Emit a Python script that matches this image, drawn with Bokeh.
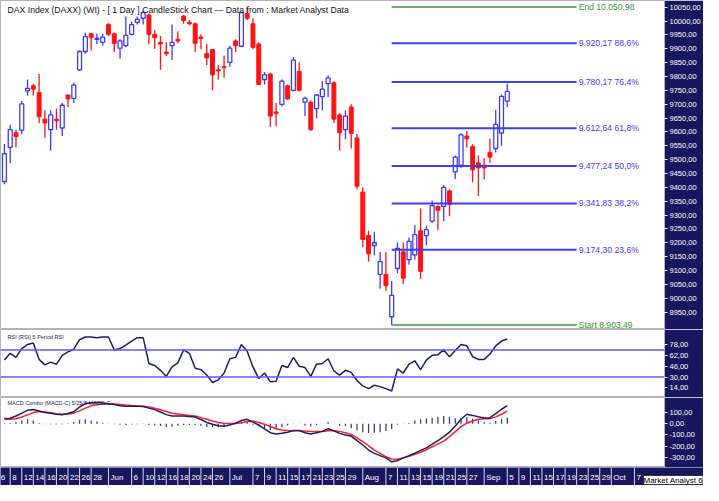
from bokeh.plotting import figure
from bokeh.layouts import column
from bokeh.models import Range1d, FixedTicker, Label, Span, ColumnDataSource
from bokeh.core.properties import value
from bokeh.embed import file_html
from bokeh.resources import INLINE

FONT = "Liberation Sans"
NAVY = "#17175f"
UP = "#3b3bff"
DOWN = "#ff1212"

# ---------------- data (trading day index 0 = 7 May 2014) ----------------
day = list(range(88))
opens = [9421, 9544, 9597, 9606, 9748, 9766, 9742, 9646, 9608, 9646,
         9614, 9733, 9721, 9824, 9890, 9954, 9934, 9923, 9987, 9954,
         9902, 9911, 9952, 9995, 10010, 10022, 9952, 9923, 9888, 9911,
         9934, 10018, 9995, 9990, 9942, 9882, 9897, 9824, 9835, 9851,
         9928, 9909, 10027, 9990, 9917, 9789, 9809, 9672, 9699, 9766,
         9750, 9818, 9707, 9707, 9684, 9727, 9774, 9777, 9661, 9608,
         9690, 9578, 9383, 9226, 9190, 9086, 9086, 8933, 9107, 9167,
         9139, 9156, 9243, 9226, 9278, 9331, 9331, 9387, 9456, 9480,
         9585, 9547, 9488, 9480, 9526, 9540, 9596, 9711]
highs = [9556, 9626, 9608, 9711, 9789, 9774, 9809, 9678, 9678, 9684,
         9704, 9735, 9777, 9894, 9958, 9958, 9954, 9954, 9993, 9958,
         9934, 10016, 9998, 10016, 10037, 10027, 9967, 9946, 9923, 9987,
         9963, 10022, 10004, 9995, 9952, 9917, 9899, 9841, 9876, 9911,
         9934, 10033, 10050.98, 10010, 9923, 9816, 9812, 9704, 9789, 9771,
         9870, 9851, 9727, 9713, 9736, 9783, 9804, 9783, 9667, 9678,
         9700, 9592, 9400, 9243, 9240, 9167, 9167, 9062, 9201, 9201,
         9219, 9264, 9324, 9261, 9352, 9334, 9408, 9393, 9515, 9595,
         9603, 9555, 9515, 9505, 9575, 9680, 9735, 9774]
lows = [9411, 9488, 9544, 9591, 9731, 9731, 9632, 9579, 9533, 9608,
        9585, 9690, 9704, 9820, 9882, 9894, 9917, 9911, 9946, 9888,
        9864, 9905, 9948, 9987, 9987, 9917, 9899, 9824, 9874, 9859,
        9920, 9990, 9985, 9888, 9899, 9841, 9750, 9789, 9795, 9835,
        9888, 9905, 10004, 9899, 9769, 9771, 9618, 9620, 9692, 9715,
        9746, 9746, 9657, 9603, 9649, 9678, 9725, 9632, 9533, 9573,
        9540, 9393, 9184, 9132, 9155, 9034, 9027, 8903.49, 9090, 9051,
        9121, 9139, 9069, 9191, 9271, 9247, 9278, 9296, 9430, 9470,
        9544, 9418, 9369, 9428, 9488, 9526, 9550, 9690]
closes = [9521, 9608, 9583, 9701, 9757, 9754, 9655, 9632, 9661, 9640,
          9696, 9719, 9769, 9890, 9944, 9940, 9937, 9942, 9952, 9919,
          9928, 9948, 9987, 10006, 10030, 9952, 9940, 9917, 9882, 9923,
          9928, 10002, 9990, 9920, 9937, 9867, 9806, 9820, 9832, 9902,
          9911, 10030, 10010, 9905, 9771, 9806, 9657, 9667, 9783, 9719,
          9859, 9750, 9721, 9608, 9733, 9754, 9795, 9646, 9597, 9657,
          9595, 9404, 9212, 9160, 9200, 9132, 9045, 9010, 9180, 9072,
          9205, 9229, 9097, 9247, 9334, 9317, 9400, 9338, 9509, 9589,
          9575, 9463, 9470, 9470, 9509, 9627, 9728, 9746]

rsi = [55, 65, 59, 72, 78, 80, 56, 48, 52, 49,
       62, 67, 71, 85, 89, 89, 88, 89, 89, 70,
       72, 77, 83, 88, 88, 50, 47, 40, 31, 45,
       51, 70, 65, 43, 41, 33, 22, 26, 36, 57,
       59, 78, 68, 45, 28, 36, 23, 24, 47, 44,
       59, 46, 44, 31, 49, 50, 57, 39, 33, 40,
       37, 25, 17, 13, 18, 16, 13, 9.5, 42, 36,
       49, 54, 41, 55, 62, 63, 70, 60, 69, 78,
       76, 60, 56, 56, 64, 76, 83, 86]
macd = [48, 50, 70, 95, 120, 128, 115, 100, 94, 86,
        80, 92, 108, 150, 180, 188, 190, 186, 180, 172,
        162, 157, 157, 157, 155, 140, 127, 105, 82, 70,
        70, 70, 66, 60, 38, 12, -5, -18, -22, -10,
        5, 30, 40, 15, -12, -45, -80, -92, -85, -75,
        -60, -60, -80, -92, -80, -68, -45, -62, -86, -100,
        -110, -150, -190, -235, -265, -285, -305, -340, -330, -305,
        -285, -262, -238, -215, -182, -150, -115, -75, -20, 40,
        85, 75, 62, 52, 55, 90, 130, 162]
signal = [40, 41, 45, 60, 80, 100, 110, 105, 98, 90,
          85, 88, 95, 115, 140, 160, 170, 176, 178, 176,
          172, 167, 163, 160, 157, 150, 140, 125, 110, 95,
          88, 80, 75, 70, 55, 40, 25, 12, 5, 3,
          3, 10, 20, 22, 12, -5, -25, -45, -55, -60,
          -62, -62, -65, -70, -70, -68, -62, -62, -68, -80,
          -95, -125, -160, -195, -235, -265, -295, -315, -318, -305,
          -290, -272, -255, -232, -205, -180, -155, -115, -70, -25,
          5, 25, 40, 44, 46, 62, 85, 113]
hist = [5, 8, 15, 30, 40, 30, 8, -5, -4, -4,
        -5, 5, 15, 35, 40, 30, 20, 10, 3, -4,
        -8, -10, -6, -4, -3, -12, -15, -20, -28, -25,
        -18, -12, -10, -12, -18, -28, -30, -30, -28, -12,
        3, 20, 22, -8, -25, -40, -55, -48, -30, -15,
        2, 2, -15, -22, -10, 0, 17, 0, -18, -20,
        -40, -60, -75, -82, -80, -75, -65, -50, -8, 2,
        8, 30, 40, 48, 55, 62, 70, 62, 50, 50,
        60, 45, 30, 15, 10, 25, 45, 55]

fib_levels = [10050.98, 9920.17, 9780.17, 9612.64, 9477.24, 9341.83, 9174.30, 8903.49]
fib_labels = ["End 10.050,98", "9.920,17 88,6%", "9.780,17 76,4%", "9.612,64 61,8%",
              "9.477,24 50,0%", "9.341,83 38,2%", "9.174,30 23,6%", "Start 8.903,49"]
fib_from = 67
fib_to = 99

date_labels = ["6", "8", "12", "14", "16", "20", "22", "26", "28",
               "Jun", "6", "10", "12", "16", "18", "20", "24", "26",
               "Jul", "7", "9", "11", "15", "17", "21", "23", "25", "29",
               "Aug", "7", "11", "13", "15", "19", "21", "25", "27",
               "Sep", "5", "9", "11", "15", "17", "19", "23", "25", "29",
               "Oct", "7"]
date_idx = [-1, 1, 3, 5, 7, 9, 11, 13, 15,
            18, 22, 24, 26, 28, 30, 32, 34, 36,
            39, 43, 45, 47, 49, 51, 53, 55, 57, 59,
            62, 66, 68, 70, 72, 74, 76, 78, 80,
            83, 87, 89, 91, 93, 95, 97, 99, 101, 103,
            105, 109]

main_ticks = [8950, 9000, 9050, 9100, 9150, 9200, 9250, 9300, 9350, 9400, 9450, 9500,
              9550, 9600, 9650, 9700, 9750, 9800, 9850, 9900, 9950, 10000, 10050]
rsi_ticks = [14, 30, 46, 62, 78]
rsi_levels = [70, 30]
macd_ticks = [-300, -200, -100, 0, 100]

# ---------------- figures ----------------
X0, X1 = -0.68, 114.2
FRAME_W, AXIS_W = 664, 39
x_range = Range1d(X0, X1)


def make_fig(height, y_range, ticks):
    p = figure(width=FRAME_W + AXIS_W, height=height, x_range=x_range, y_range=y_range,
               output_backend="svg", toolbar_location=None,
               x_axis_location=None, y_axis_location="right",
               min_border=0, min_border_right=AXIS_W)
    p.border_fill_color = NAVY
    p.background_fill_color = "white"
    p.outline_line_color = "#b4b4b4"
    p.grid.visible = False
    ax = p.yaxis[0]
    ax.ticker = FixedTicker(ticks=ticks)
    ax.major_label_overrides = {t: ("%.2f" % t).replace(".", ",") for t in ticks}
    ax.major_label_text_color = "white"
    ax.major_label_text_font = FONT
    ax.major_label_text_font_size = "7.5px"
    ax.major_tick_line_color = "white"
    ax.major_tick_out = 3
    ax.major_tick_in = 0
    ax.minor_tick_line_color = None
    ax.axis_line_color = None
    ax.major_label_standoff = 2
    return p


# main price panel
p = make_fig(329, Range1d(8887, 10074), main_ticks)

up = [i for i in day if closes[i] >= opens[i]]
dn = [i for i in day if closes[i] < opens[i]]
src_up = ColumnDataSource(dict(x=up, h=[highs[i] for i in up], l=[lows[i] for i in up],
                               t=[closes[i] for i in up], b=[opens[i] for i in up]))
src_dn = ColumnDataSource(dict(x=dn, h=[highs[i] for i in dn], l=[lows[i] for i in dn],
                               t=[opens[i] for i in dn], b=[closes[i] for i in dn]))
p.segment(x0="x", x1="x", y0="l", y1="h", source=src_up, line_color=UP, line_width=1.3)
p.vbar(x="x", top="t", bottom="b", width=0.68, source=src_up,
       fill_color="white", line_color=UP, line_width=1.3)
p.segment(x0="x", x1="x", y0="l", y1="h", source=src_dn, line_color=DOWN, line_width=1.3)
p.vbar(x="x", top="t", bottom="b", width=0.68, source=src_dn,
       fill_color=DOWN, line_color=DOWN, line_width=1)

fib_colors = ["#3a963a" if lab.startswith(("End", "Start")) else "#3c3cff" for lab in fib_labels]
fib_widths = [1.5 if lab.startswith(("End", "Start")) else 2 for lab in fib_labels]
src_fib = ColumnDataSource(dict(y=fib_levels, label=fib_labels, c=fib_colors, w=fib_widths,
                                x0=[fib_from] * len(fib_levels), x1=[fib_to] * len(fib_levels)))
p.segment(x0="x0", x1="x1", y0="y", y1="y", line_color="c", line_width="w", source=src_fib)
p.text(x="x1", y="y", text="label", text_color="c", source=src_fib, x_offset=2,
       text_font=value(FONT), text_font_size="8.6px", text_baseline="middle", text_align="left")

p.add_layout(Label(x=7, y=320, x_units="screen", y_units="screen",
                   text="DAX Index (DAXX) (WI) -  [ 1 Day ] CandleStick Chart \u2014 Data from : Market Analyst Data",
                   text_font=FONT, text_font_size="8.7px", text_color="#111111",
                   text_baseline="middle"))

# RSI panel
pr = make_fig(68, Range1d(0, 100), rsi_ticks)
for lv in rsi_levels:
    pr.add_layout(Span(location=lv, dimension="width", line_color="#5a5aff", line_width=1.5))
pr.line(day, rsi, line_color="#1c1c70", line_width=1.5)
pr.add_layout(Label(x=7, y=61, x_units="screen", y_units="screen",
                    text="RSI (RSI) 5 Period RSI", text_font=FONT, text_font_size="5.5px",
                    text_color="#222255", text_baseline="middle"))

# MACD panel
pm = make_fig(70, Range1d(-391, 235), macd_ticks)
pm.vbar(x=day, top=hist, bottom=0, width=0.22, fill_color="#3a3a8c", line_color=None)
pm.line(day, signal, line_color="#ff2020", line_width=1.5)
pm.line(day, macd, line_color="#1c1c70", line_width=1.5)
pm.add_layout(Label(x=7, y=65, x_units="screen", y_units="screen",
                    text="MACD Combo (MACD-C) 5/25/8 MACD-C", text_font=FONT, text_font_size="5.5px",
                    text_color="#222255", text_baseline="middle"))

# date band (spans the full width, including under the value axis column)
band_end = X0 + (X1 - X0) * (FRAME_W + AXIS_W) / FRAME_W
pb = figure(width=FRAME_W + AXIS_W, height=18, x_range=Range1d(X0, band_end), y_range=Range1d(0, 1),
            output_backend="svg", toolbar_location=None,
            x_axis_location=None, y_axis_location=None, min_border=0)
pb.border_fill_color = NAVY
pb.background_fill_color = NAVY
pb.outline_line_color = None
pb.grid.visible = False
pb.segment(x0=date_idx, x1=date_idx, y0=[0] * len(date_idx), y1=[1] * len(date_idx),
           line_color="#d8d8f0", line_width=1)
pb.text(x=date_idx, y=[0.45] * len(date_idx), text=date_labels, x_offset=2,
        text_color="white", text_font=value(FONT), text_font_size="8px",
        text_baseline="middle", text_align="left")
pb.add_layout(Label(x=643, y=1, x_units="screen", y_units="screen",
                    text="Market Analyst 6", text_font=FONT, text_font_size="8px",
                    text_color="black", background_fill_color="white",
                    border_line_color="#333333", text_baseline="bottom"))

panels = column(p, pr, pm, spacing=0)
layout = column(panels, pb, spacing=0)
open("out.html", "w").write(file_html(layout, INLINE))
